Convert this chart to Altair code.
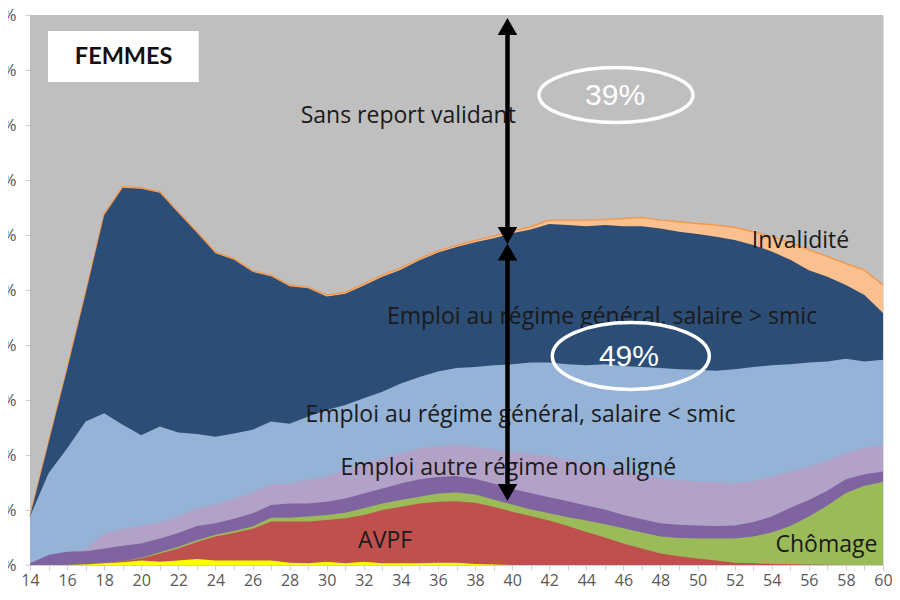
import altair as alt
import pandas as pd

# ---- Données (parts cumulées en %) ----
ages = list(range(14, 61))

top_maladie = [0, 0, 0, 0.1, 0.3, 0.5, 0.8, 0.6, 0.8, 1.1, 0.8, 0.8, 0.8, 0.8, 0.4, 0.3,
               0.6, 0.3, 0.6, 0.3, 0.3, 0.3, 0.4, 0.4, 0.2, 0.1, 0,
               0, 0, 0, 0, 0, 0, 0, 0, 0, 0, 0, 0, 0, 0, 0, 0, 0, 0, 0, 0]
top_avpf = [0, 0, 0, 0.1, 0.4, 0.7, 1.2, 2.1, 3.0, 4.2, 5.2, 5.8, 6.6, 7.9, 7.9, 7.9,
            8.2, 8.5, 9.1, 10.0, 10.6, 11.2, 11.5, 11.6, 11.3, 10.6, 9.7, 8.9, 8.1, 7.1,
            6.0, 5.0, 3.9, 3.0, 2.1, 1.6, 1.2, 0.8, 0.4, 0.3, 0.2, 0.15, 0.1, 0.05, 0, 0, 0]
top_chomage = [0, 0, 0, 0.1, 0.4, 0.7, 1.3, 2.3, 3.3, 4.5, 5.5, 6.2, 7.0, 8.6, 8.6, 8.8,
               9.1, 9.5, 10.3, 11.2, 11.8, 12.4, 13.0, 13.2, 12.8, 11.9, 11.0, 10.1, 9.4, 8.7,
               8.1, 7.4, 6.7, 5.9, 5.2, 4.9, 4.8, 4.8, 4.8, 5.2, 5.9, 7.1, 8.8, 10.8, 13.1, 14.4, 15.1]
top_aligne = [0.3, 1.8, 2.4, 2.5, 3.0, 3.5, 3.9, 4.8, 5.8, 7.1, 7.6, 8.4, 9.4, 10.9, 11.2, 11.2,
              11.5, 12.1, 13.0, 13.9, 14.8, 15.6, 16.0, 16.2, 15.7, 14.8, 13.8, 13.1, 12.3, 11.6,
              10.8, 10.1, 9.1, 8.3, 7.6, 7.3, 7.2, 7.1, 7.2, 7.8, 8.8, 10.4, 11.8, 13.5, 15.6, 16.5, 17.0]
top_non_aligne = [0.3, 1.8, 2.4, 2.8, 5.8, 6.5, 7.1, 7.7, 8.8, 10.3, 11.0, 12.1, 13.2, 14.7, 14.8, 15.5,
                  16.1, 17.3, 18.5, 19.4, 20.3, 21.2, 21.6, 21.8, 21.5, 21.0, 20.6, 20.2, 19.8, 19.2,
                  18.6, 17.8, 17.0, 16.3, 15.8, 15.4, 15.2, 15.0, 14.9, 15.2, 16.1, 17.0, 17.9, 19.0, 20.3, 21.3, 21.8]
top_sous_smic = [8.8, 16.7, 21.2, 26.1, 27.6, 25.5, 23.6, 25.2, 24.1, 23.8, 23.3, 23.9, 24.6, 26.1, 25.7, 27.0,
                 28.2, 29.1, 30.3, 31.5, 33.0, 34.2, 35.2, 35.8, 36.0, 36.3, 36.5, 36.8, 36.8, 36.5,
                 36.3, 36.5, 36.2, 36.0, 35.8, 35.6, 35.5, 35.3, 35.6, 36.0, 36.3, 36.5, 36.8, 37.0, 37.5, 37.0, 37.3]
top_sur_smic = [8.8, 22.2, 35.5, 49.3, 63.6, 68.6, 68.4, 67.7, 64.0, 60.4, 56.7, 55.5, 53.3, 52.5, 50.7, 50.3,
                48.8, 49.3, 50.8, 52.4, 53.7, 55.4, 56.8, 57.8, 58.7, 59.4, 60.3, 61.0, 62.0, 61.8,
                61.6, 61.8, 61.6, 61.6, 61.2, 60.6, 60.2, 59.7, 59.1, 58.2, 57.0, 55.5, 53.6, 52.4, 50.9, 49.1, 45.8]
top_invalidite = [8.8, 22.3, 35.6, 49.5, 63.8, 68.8, 68.6, 67.9, 64.2, 60.6, 56.9, 55.7, 53.5, 52.7, 50.9, 50.5,
                  49.1, 49.6, 51.1, 52.7, 54.0, 55.7, 57.1, 58.1, 59.0, 59.8, 60.7, 61.5, 62.7, 62.7,
                  62.7, 62.8, 63.0, 63.2, 62.7, 62.4, 62.1, 61.8, 61.4, 60.6, 59.7, 58.6, 57.3, 56.1, 54.8, 53.6, 50.9]
top_total = [100] * len(ages)

# couches dessinées du haut vers le bas (chacune de 0 à sa limite cumulée)
couches = [
    ("Sans report validant", top_total, "#BFBFBF"),
    ("Invalidité", top_invalidite, "#FAC090"),
    ("Emploi au régime général, salaire > smic", top_sur_smic, "#2C4D75"),
    ("Emploi au régime général, salaire < smic", top_sous_smic, "#95B3D7"),
    ("Emploi autre régime non aligné", top_non_aligne, "#B3A2C7"),
    ("Emploi régime aligné", top_aligne, "#8064A2"),
    ("Chômage", top_chomage, "#9BBB59"),
    ("AVPF", top_avpf, "#C0504D"),
    ("Maladie", top_maladie, "#FFFF00"),
]

etiquettes = ["Sans report validant", "Invalidité", "Emploi au régime général, salaire > smic",
              "Emploi au régime général, salaire < smic", "Emploi autre régime non aligné",
              "AVPF", "Chômage"]
etiq_age = [34.4, 55.55, 44.85, 40.45, 39.8, 33.15, 56.95]
etiq_pct = [81.6, 58.9, 45.1, 27.3, 17.6, 4.4, 3.7]

pourcentages = ["39%", "49%"]
pct_age = [45.55, 46.3]
pct_pos = [85.3, 37.8]

titre = "FEMMES"
fleche_age = 39.75

x_scale = alt.Scale(domain=[14, 60], nice=False, zero=False)
y_scale = alt.Scale(domain=[0, 100], nice=False)

x_axis = alt.Axis(values=ages, labelExpr="datum.value % 2 == 0 ? datum.label : ''",
                  labelFont="Open Sans", labelFontSize=16, labelColor="#595959",
                  labelPadding=2, tickSize=5, tickColor="#D0D0D0", domainColor="#D0D0D0",
                  labelFlush=False, labelOverlap=False, grid=False, title=None)
y_axis = alt.Axis(values=list(range(0, 101, 10)), labelExpr="datum.value + '%'",
                  labelFont="Open Sans", labelFontSize=17, labelColor="#595959",
                  labelPadding=9, tickSize=5, tickColor="#D0D0D0", domainColor="#D0D0D0",
                  labelOverlap=False, grid=False, title=None)


def X(f):
    return alt.X(f, scale=x_scale, axis=x_axis)


def Y(f):
    return alt.Y(f, scale=y_scale, axis=y_axis)


layers = []
for nom, tops, couleur in couches:
    d = pd.DataFrame({"age": ages, "haut": tops})
    layers.append(alt.Chart(d).mark_area(interpolate="linear", color=couleur)
                  .encode(x=X("age:Q"), y=Y("haut:Q")))
    if nom == "Invalidité":
        layers.append(alt.Chart(d).mark_line(interpolate="linear", color="#F79646", strokeWidth=1.4)
                      .encode(x=X("age:Q"), y=Y("haut:Q")))

# cartouche FEMMES
boite = pd.DataFrame({"age": [14.97], "age2": [23.1], "haut": [87.8], "haut2": [97.1],
                      "xc": [19.05], "yc": [92.3], "t": [titre]})
layers.append(alt.Chart(boite).mark_rect(color="white")
              .encode(x=X("age:Q"), x2="age2:Q", y=Y("haut:Q"), y2="haut2:Q"))
layers.append(alt.Chart(boite).mark_text(font="Lato", fontSize=23.5, fontWeight="bold", color="#111111",
                                         baseline="middle", align="center")
              .encode(x=X("xc:Q"), y=Y("yc:Q"), text="t:N"))

# étiquettes des couches
et = pd.DataFrame({"t": etiquettes, "age": etiq_age, "haut": etiq_pct})
layers.append(alt.Chart(et).mark_text(font="Open Sans", fontSize=23, color="#1A1A1A",
                                      baseline="middle", align="center")
              .encode(x=X("age:Q"), y=Y("haut:Q"), text="t:N"))

# flèches
regles = pd.DataFrame({"age": [fleche_age, fleche_age], "haut": [97.3, 55.6], "haut2": [61.0, 14.6]})
layers.append(alt.Chart(regles).mark_rule(color="black", strokeWidth=4.5)
              .encode(x=X("age:Q"), y=Y("haut:Q"), y2="haut2:Q"))
pointes_haut = pd.DataFrame({"age": [fleche_age, fleche_age], "haut": [97.9, 56.9]})
pointes_bas = pd.DataFrame({"age": [fleche_age, fleche_age], "haut": [59.9, 13.2]})
layers.append(alt.Chart(pointes_haut).mark_point(shape="triangle-up", filled=True, color="black",
                                                 opacity=1, size=380)
              .encode(x=X("age:Q"), y=Y("haut:Q")))
layers.append(alt.Chart(pointes_bas).mark_point(shape="triangle-down", filled=True, color="black",
                                                opacity=1, size=380)
              .encode(x=X("age:Q"), y=Y("haut:Q")))

# ellipses et pourcentages
ell1 = pd.DataFrame({"age": [pct_age[0] + 0.05], "haut": [85.45]})
ell2 = pd.DataFrame({"age": [pct_age[1] + 0.1], "haut": [38.0]})
layers.append(alt.Chart(ell1).mark_point(
    shape="M -1 0 A 1 0.357 0 1 0 1 0 A 1 0.357 0 1 0 -1 0 Z",
    filled=False, stroke="white", strokeWidth=3.5, opacity=1, size=154 * 154)
    .encode(x=X("age:Q"), y=Y("haut:Q")))
layers.append(alt.Chart(ell2).mark_point(
    shape="M -1 0 A 1 0.427 0 1 0 1 0 A 1 0.427 0 1 0 -1 0 Z",
    filled=False, stroke="white", strokeWidth=3.5, opacity=1, size=157 * 157)
    .encode(x=X("age:Q"), y=Y("haut:Q")))
pc = pd.DataFrame({"t": pourcentages, "age": pct_age, "haut": pct_pos})
layers.append(alt.Chart(pc).mark_text(font="Liberation Sans", fontSize=30, color="white",
                                      baseline="middle", align="center")
              .encode(x=X("age:Q"), y=Y("haut:Q"), text="t:N"))

chart = alt.layer(*layers).properties(
    width=853, height=550,
    autosize=alt.AutoSizeParams(type="none"),
    padding={"left": 22, "top": 7, "right": 9, "bottom": 27},
).configure_view(stroke=None).configure(background="white")

chart.save("out.html", embed_options={"renderer": "svg", "actions": False})
